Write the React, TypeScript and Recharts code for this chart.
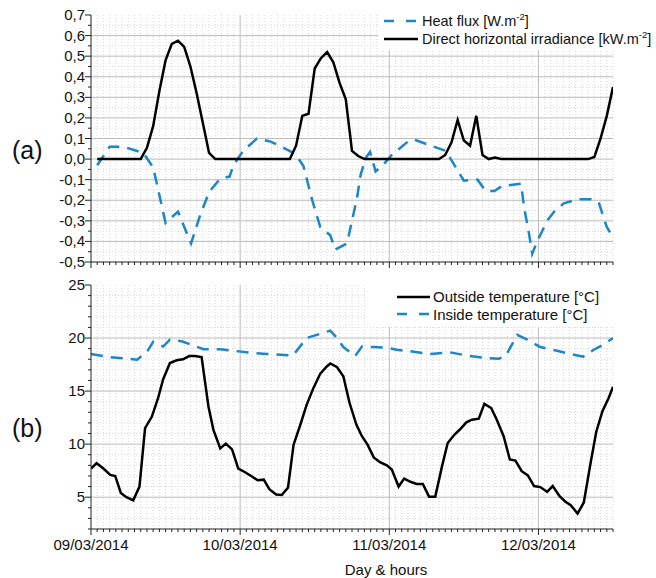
import React from 'react';
import { LineChart, Line, XAxis, YAxis, CartesianGrid } from 'recharts';

const FONT = '"Liberation Sans", Arial, Helvetica, sans-serif';
const BLUE = '#1b86c8';

// ---------- axis ticks ----------
const hourTicks = Array.from({ length: 85 }, (_, i) => i);
const dayTicks = [0, 24, 48, 72];
const dayLabels = ['09/03/2014', '10/03/2014', '11/03/2014', '12/03/2014'];
const minorHours = hourTicks.filter((h) => h % 24 !== 0);

const topYTicks = [-0.5, -0.45, -0.4, -0.35, -0.3, -0.25, -0.2, -0.15, -0.1, -0.05, 0, 0.05, 0.1, 0.15, 0.2, 0.25, 0.3, 0.35, 0.4, 0.45, 0.5, 0.55, 0.6, 0.65, 0.7];
const topMajorGrid = [-0.4, -0.3, -0.2, -0.1, 0, 0.1, 0.2, 0.3, 0.4, 0.5, 0.6];
const topMinorGrid = [-0.45, -0.35, -0.25, -0.15, -0.05, 0.05, 0.15, 0.25, 0.35, 0.45, 0.55, 0.65];

const botYTicks = [2, 3, 4, 5, 6, 7, 8, 9, 10, 11, 12, 13, 14, 15, 16, 17, 18, 19, 20, 21, 22, 23, 24, 25];
const botMajorGrid = [5, 10, 15, 20];
const botMinorGrid = [3, 4, 6, 7, 8, 9, 11, 12, 13, 14, 16, 17, 18, 19, 21, 22, 23, 24];

// ---------- (a) Direct horizontal irradiance [kW.m-2], hourly from hour 1 ----------
const irradiance = [
  0, 0, 0, 0, 0, 0, 0, 0,
  0.055, 0.16, 0.33, 0.48, 0.56, 0.575, 0.545, 0.45, 0.32, 0.175, 0.03, 0,
  0, 0, 0, 0, 0, 0, 0, 0, 0, 0, 0, 0,
  0.065, 0.21, 0.22, 0.44, 0.49, 0.52, 0.47, 0.37, 0.29, 0.04, 0.015, 0,
  0, 0, 0, 0, 0, 0, 0, 0, 0, 0, 0, 0,
  0.02, 0.08, 0.19, 0.09, 0.065, 0.21, 0.02, 0, 0.007, 0,
  0, 0, 0, 0, 0, 0, 0, 0, 0, 0, 0, 0, 0, 0,
  0.01, 0.1, 0.21, 0.35,
];

// ---------- (a) Heat flux [W.m-2] ----------
const heatHours = [1, 3, 5.2, 8.4, 10, 12, 14, 16.1, 17.6, 19, 20.8, 22.3, 22.9, 24.5, 26.7, 28.9, 31.3, 32.9, 34.2, 35.6, 36.9, 38.5, 39.3, 41.2, 42, 42.8, 43.4, 44.2, 44.9, 45.8, 47.1, 48.4, 51.2, 52, 54.7, 57.1, 58.7, 60, 62.2, 63.5, 64.9, 66.2, 69.2, 69.7, 70.5, 71, 71.8, 73.4, 74.8, 76.1, 78.3, 80.4, 81.7, 83, 84];
const heatFlux = [-0.03, 0.06, 0.06, 0.03, -0.04, -0.31, -0.255, -0.41, -0.27, -0.16, -0.095, -0.085, -0.03, 0.04, 0.1, 0.085, 0.05, 0.025, -0.035, -0.2, -0.33, -0.37, -0.44, -0.41, -0.3, -0.19, -0.075, 0.005, 0.035, -0.06, -0.025, 0.02, 0.09, 0.095, 0.065, 0.04, -0.04, -0.105, -0.1, -0.155, -0.155, -0.13, -0.12, -0.235, -0.365, -0.46, -0.4, -0.3, -0.245, -0.215, -0.195, -0.195, -0.21, -0.33, -0.38];

// ---------- (b) Outside temperature [°C] ----------
const outsideHours = [0, 0.9, 2, 3.1, 3.9, 4.8, 5.7, 6.8, 7.8, 8.7, 9.8, 10.8, 11.6, 12.7, 13.8, 14.8, 15.8, 16.7, 17.8, 18.9, 19.7, 20.8, 21.7, 22.7, 23.7, 24.8, 25.9, 26.8, 27.8, 28.7, 29.8, 30.7, 31.7, 32.6, 33.7, 34.7, 35.8, 36.9, 37.9, 38.5, 39.6, 40.6, 41.6, 42.7, 43.6, 44.5, 45.5, 46.5, 47.6, 48.4, 49.5, 50.4, 51.4, 52.4, 53.4, 54.4, 55.4, 56.5, 57.4, 58.5, 59.4, 60.4, 61.3, 62.4, 63.3, 64.4, 65.3, 66.4, 67.4, 68.3, 69.3, 70.3, 71.3, 72.3, 73.4, 74.3, 75.4, 76.3, 77.2, 78.3, 79.3, 80.4, 81.3, 82.3, 83.3, 84];
const outsideTemp = [7.7, 8.2, 7.7, 7.1, 7.0, 5.4, 5.0, 4.7, 6.0, 11.5, 12.6, 14.35, 16.1, 17.65, 17.9, 18.0, 18.3, 18.3, 18.2, 13.55, 11.35, 9.6, 10.05, 9.5, 7.7, 7.35, 6.95, 6.6, 6.65, 5.75, 5.25, 5.2, 5.9, 9.95, 11.85, 13.7, 15.3, 16.65, 17.3, 17.6, 17.25, 16.4, 13.9, 11.85, 10.75, 9.95, 8.75, 8.3, 8.0, 7.6, 6.0, 6.75, 6.45, 6.25, 6.25, 5.05, 5.05, 7.95, 10.1, 10.9, 11.4, 12.05, 12.3, 12.4, 13.8, 13.4, 12.3, 10.75, 8.55, 8.45, 7.45, 7.05, 6.05, 5.95, 5.5, 6.05, 5.1, 4.6, 4.25, 3.45, 4.5, 8.25, 11.15, 13.1, 14.35, 15.4];

// ---------- (b) Inside temperature [°C] ----------
const insideHours = [0, 3.1, 5.2, 7.4, 9, 10, 11.6, 12.7, 14.6, 16.2, 18.1, 20.8, 22.9, 26.1, 28.3, 32.5, 34.7, 38.5, 39.6, 40.6, 42.5, 43.6, 45.5, 47.4, 49.2, 51.4, 54.6, 57.8, 60.5, 63.7, 65.6, 66.7, 68.6, 70.2, 72.3, 75, 77.1, 79.2, 80.9, 82.5, 84];
const insideTemp = [18.5, 18.2, 18.1, 17.95, 18.7, 19.65, 19.2, 19.85, 19.7, 19.35, 18.95, 18.95, 18.8, 18.6, 18.5, 18.35, 20.0, 20.7, 20.0, 19.15, 18.3, 19.2, 19.15, 19.1, 18.9, 18.75, 18.5, 18.65, 18.35, 18.1, 18.05, 18.3, 20.3, 19.85, 19.15, 18.8, 18.5, 18.25, 18.9, 19.4, 20.0];

const irrData = irradiance.map((v, i) => ({ h: i + 1, v }));
const heatData = heatHours.map((h, i) => ({ h, v: heatFlux[i] }));
const outsideData = outsideHours.map((h, i) => ({ h, v: outsideTemp[i] }));
const insideData = insideHours.map((h, i) => ({ h, v: insideTemp[i] }));

const isMajor01 = (v: number) => Math.abs(v * 10 - Math.round(v * 10)) < 1e-6;

const HourTick = (props: any) => {
  const { x, y, payload } = props;
  const major = payload.value % 24 === 0;
  return <line x1={x} x2={x} y1={y} y2={y + (major ? 6 : 3)} stroke="#222" strokeWidth={1} />;
};

const DayTick = (props: any) => {
  const { x, y, payload } = props;
  const v = payload.value;
  const major = v % 24 === 0;
  return (
    <g>
      <line x1={x} x2={x} y1={y} y2={y + (major ? 6 : 3)} stroke="#222" strokeWidth={1} />
      {major ? (
        <text x={x} y={y + 21} textAnchor="middle" fontSize={15} fontFamily={FONT} fill="#111">
          {dayLabels[v / 24]}
        </text>
      ) : null}
    </g>
  );
};

const TopYTick = (props: any) => {
  const { x, y, payload } = props;
  const v = payload.value;
  const major = isMajor01(v);
  return (
    <g>
      <line x1={x - (major ? 6 : 3)} x2={x} y1={y} y2={y} stroke="#222" strokeWidth={1} />
      {major ? (
        <text x={x - 6} y={y + 5} textAnchor="end" fontSize={15} fontFamily={FONT} fill="#111">
          {v.toFixed(1).replace('.', ',')}
        </text>
      ) : null}
    </g>
  );
};

const BotYTick = (props: any) => {
  const { x, y, payload } = props;
  const v = payload.value;
  const major = v % 5 === 0;
  return (
    <g>
      <line x1={x - (major ? 6 : 3)} x2={x} y1={y} y2={y} stroke="#222" strokeWidth={1} />
      {major ? (
        <text x={x - 6} y={y + 5} textAnchor="end" fontSize={15} fontFamily={FONT} fill="#111">
          {String(v)}
        </text>
      ) : null}
    </g>
  );
};

export default function App() {
  return (
    <div style={{ position: 'absolute', left: 0, top: 0, width: 656, height: 578, background: '#fff', overflow: 'hidden' }}>
      <div style={{ position: 'absolute', left: 0, top: 0 }}>
        <LineChart width={656} height={270} margin={{ top: 15, right: 43, bottom: 0, left: 0 }}>
          <CartesianGrid verticalValues={minorHours} horizontalValues={topMinorGrid} stroke="#d9d9d9" strokeDasharray="1 2" fill="none" />
          <CartesianGrid verticalValues={[24, 48, 72]} horizontalValues={topMajorGrid} stroke="#bcbcbc" fill="none" />
          <XAxis type="number" dataKey="h" domain={[0, 84]} ticks={hourTicks} interval={0} height={8} tickSize={0} tickMargin={0} tickLine={false} axisLine={{ stroke: '#222' }} tick={(p: any) => <HourTick {...p} />} allowDataOverflow />
          <YAxis type="number" domain={[-0.5, 0.7]} ticks={topYTicks} interval={0} width={91} tickSize={0} tickMargin={0} tickLine={false} axisLine={{ stroke: '#222' }} tick={(p: any) => <TopYTick {...p} />} allowDataOverflow />
          <Line data={heatData} dataKey="v" type="linear" stroke={BLUE} strokeWidth={2.5} strokeDasharray="12 8" dot={false} isAnimationActive={false} />
          <Line data={irrData} dataKey="v" type="linear" stroke="#000" strokeWidth={2.5} dot={false} isAnimationActive={false} />
        </LineChart>
      </div>
      <div style={{ position: 'absolute', left: 0, top: 270 }}>
        <LineChart width={656} height={308} margin={{ top: 15, right: 43, bottom: 0, left: 0 }}>
          <CartesianGrid verticalValues={minorHours} horizontalValues={botMinorGrid} stroke="#d9d9d9" strokeDasharray="1 2" fill="none" />
          <CartesianGrid verticalValues={[24, 48, 72]} horizontalValues={botMajorGrid} stroke="#bcbcbc" fill="none" />
          <XAxis type="number" dataKey="h" domain={[0, 84]} ticks={hourTicks} interval={0} height={49} tickSize={0} tickMargin={0} tickLine={false} axisLine={{ stroke: '#222' }} tick={(p: any) => <DayTick {...p} />} allowDataOverflow />
          <YAxis type="number" domain={[2, 25]} ticks={botYTicks} interval={0} width={91} tickSize={0} tickMargin={0} tickLine={false} axisLine={{ stroke: '#222' }} tick={(p: any) => <BotYTick {...p} />} allowDataOverflow />
          <Line data={insideData} dataKey="v" type="linear" stroke={BLUE} strokeWidth={2.5} strokeDasharray="12 8" dot={false} isAnimationActive={false} />
          <Line data={outsideData} dataKey="v" type="linear" stroke="#000" strokeWidth={2.5} dot={false} isAnimationActive={false} />
        </LineChart>
      </div>
      <svg width={656} height={578} style={{ position: 'absolute', left: 0, top: 0, pointerEvents: 'none' }} fontFamily={FONT}>
        <text x={12} y={159} fontSize={25} fill="#111">(a)</text>
        <text x={12} y={437} fontSize={25} fill="#111">(b)</text>
        <text x={386} y={575} fontSize={15} textAnchor="middle" fill="#111">Day &amp; hours</text>

        <rect x={378} y={0} width={278} height={50} fill="#fff" />
        <line x1={384} x2={418} y1={21} y2={21} stroke={BLUE} strokeWidth={2.5} strokeDasharray="10 12" />
        <text x={422} y={26} fontSize={14.5} fill="#111">
          Heat flux [W.m<tspan dy={-6} fontSize={9.5}>-2</tspan><tspan dy={6}>]</tspan>
        </text>
        <line x1={384} x2={418} y1={39} y2={39} stroke="#000" strokeWidth={2.5} />
        <text x={422} y={44} fontSize={14.5} fill="#111">
          Direct horizontal irradiance [kW.m<tspan dy={-6} fontSize={9.5}>-2</tspan><tspan dy={6}>]</tspan>
        </text>

        <rect x={365} y={285} width={249} height={42} fill="#fff" />
        <line x1={397} x2={430} y1={297} y2={297} stroke="#000" strokeWidth={2.5} />
        <text x={433} y={302} fontSize={15} fill="#111">Outside temperature [°C]</text>
        <line x1={397} x2={430} y1={314} y2={314} stroke={BLUE} strokeWidth={2.5} strokeDasharray="10 12" />
        <text x={433} y={320} fontSize={15} fill="#111">Inside temperature [°C]</text>
      </svg>
    </div>
  );
}
